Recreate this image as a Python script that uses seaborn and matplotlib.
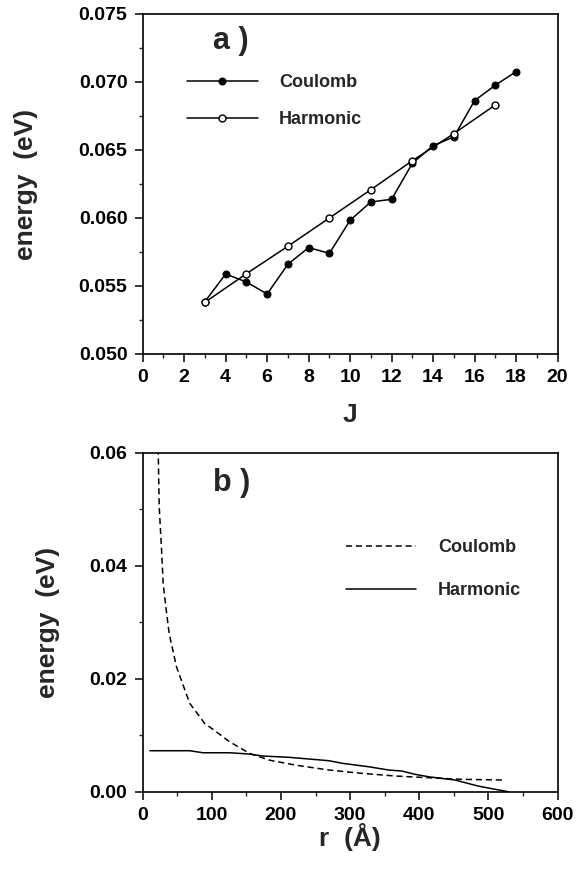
import numpy as np
import pandas as pd
import matplotlib
matplotlib.use("Agg")
import matplotlib.pyplot as plt
from matplotlib.ticker import MultipleLocator, FormatStrFormatter
import seaborn as sns

# panel a: energy vs J
j_coulomb = [3, 4, 5, 6, 7, 8, 9, 10, 11, 12, 13, 14, 15, 16, 17, 18]
e_coulomb = [0.05385, 0.05588, 0.05529, 0.05441, 0.0566, 0.05782, 0.0574, 0.05983,
             0.06118, 0.06137, 0.06402, 0.06532, 0.06596, 0.06863, 0.06976, 0.07076]
j_harmonic = [3, 5, 7, 9, 11, 13, 15, 17]
e_harmonic = [0.0538, 0.0559, 0.05792, 0.0600, 0.06208, 0.06421, 0.0662, 0.06831]

# panel b: energy vs r
r_coulomb = [22.0, 22.5, 23.9, 27.3, 29.6, 33.5, 38.3, 48.9, 68.0, 89.6, 106.5, 125.6,
             154.4, 183.0, 221.6, 269.5, 317.4, 365.5, 413.0, 461.0, 523.7]
v_coulomb = [0.0625, 0.0600, 0.0504, 0.0428, 0.0369, 0.0327, 0.0280, 0.0221, 0.01565,
             0.0121, 0.0106, 0.00885, 0.0068, 0.0056, 0.0047, 0.00384, 0.00325,
             0.00278, 0.00248, 0.0022, 0.00207]
r_harmonic = [10.5, 68.0, 87.2, 125.6, 154.4, 173.5, 212.0, 269.5, 288.6, 327.0,
              355.8, 375.0, 394.0, 413.4, 451.8, 485.3, 528.5]
v_harmonic = [0.00726, 0.00726, 0.0069, 0.0069, 0.00667, 0.00632, 0.00609, 0.00549,
              0.00503, 0.00442, 0.00384, 0.00366, 0.00308, 0.00265, 0.00207, 0.0010, 0.0]

sns.set_style("ticks")
plt.rcParams['font.family'] = ['Liberation Sans', 'DejaVu Sans']
plt.rcParams['font.weight'] = 'bold'
plt.rcParams['axes.labelweight'] = 'bold'

fig = plt.figure(figsize=(5.86, 8.71), dpi=100)
ax1 = fig.add_axes([0.2435, 0.5936, 0.708, 0.3904])
ax2 = fig.add_axes([0.2435, 0.0910, 0.708, 0.3892])

# --- a)
sns.lineplot(x=j_coulomb, y=e_coulomb, ax=ax1, color='black', lw=1.1, marker='o',
             markersize=5, markerfacecolor='black', markeredgecolor='black',
             label='Coulomb')
sns.lineplot(x=j_harmonic, y=e_harmonic, ax=ax1, color='black', lw=1.1, marker='o',
             markersize=5, markerfacecolor='white', markeredgecolor='black',
             markeredgewidth=1.0, label='Harmonic')
ax1.set_xlim(0, 20)
ax1.set_ylim(0.050, 0.075)
ax1.xaxis.set_major_locator(MultipleLocator(2))
ax1.xaxis.set_minor_locator(MultipleLocator(1))
ax1.yaxis.set_major_locator(MultipleLocator(0.005))
ax1.yaxis.set_minor_locator(MultipleLocator(0.0025))
ax1.yaxis.set_major_formatter(FormatStrFormatter('%.3f'))
ax1.set_xlabel('J', fontsize=19)
ax1.set_ylabel('energy  (eV)', fontsize=19)
ax1.text(0.17, 0.92, 'a )', transform=ax1.transAxes, fontsize=22, fontweight='bold',
         ha='left', va='center')
ax1.legend(loc='upper left', bbox_to_anchor=(0.107, 0.822), frameon=False,
           fontsize=13, handlelength=3.9, handletextpad=1.2, labelspacing=1.1,
           borderpad=0, borderaxespad=0, numpoints=1)

# --- b)
sns.lineplot(x=r_coulomb, y=v_coulomb, ax=ax2, color='black', lw=1.1,
             linestyle=(0, (4, 2.5)), label='Coulomb', sort=False)
sns.lineplot(x=r_harmonic, y=v_harmonic, ax=ax2, color='black', lw=1.1,
             label='Harmonic', sort=False)
ax2.set_xlim(0, 600)
ax2.set_ylim(0.0, 0.06)
ax2.xaxis.set_major_locator(MultipleLocator(100))
ax2.xaxis.set_minor_locator(MultipleLocator(50))
ax2.yaxis.set_major_locator(MultipleLocator(0.02))
ax2.yaxis.set_minor_locator(MultipleLocator(0.01))
ax2.yaxis.set_major_formatter(FormatStrFormatter('%.2f'))
ax2.set_xlabel('r  (Å)', fontsize=19)
ax2.set_ylabel('energy  (eV)', fontsize=19)
ax2.text(0.17, 0.91, 'b )', transform=ax2.transAxes, fontsize=22, fontweight='bold',
         ha='left', va='center')
ax2.legend(loc='upper left', bbox_to_anchor=(0.49, 0.745), frameon=False,
           fontsize=13, handlelength=3.9, handletextpad=1.2, labelspacing=1.45,
           borderpad=0, borderaxespad=0)

for ax in (ax1, ax2):
    for sp in ax.spines.values():
        sp.set_visible(True)
        sp.set_linewidth(1.2)
        sp.set_color('black')
    ax.tick_params(which='major', direction='out', length=6, width=1.1,
                   labelsize=14, pad=5, top=False, right=False, colors='black')
    ax.tick_params(which='minor', direction='out', length=3, width=1.0,
                   top=False, right=False)
    for lab in ax.get_xticklabels() + ax.get_yticklabels():
        lab.set_fontweight('bold')

ax1.yaxis.set_label_coords(-0.253, 0.5)
ax2.yaxis.set_label_coords(-0.199, 0.5)
ax1.xaxis.set_label_coords(0.5, -0.145)
ax2.xaxis.set_label_coords(0.5, -0.093)

fig.savefig('out.png', dpi=100)
